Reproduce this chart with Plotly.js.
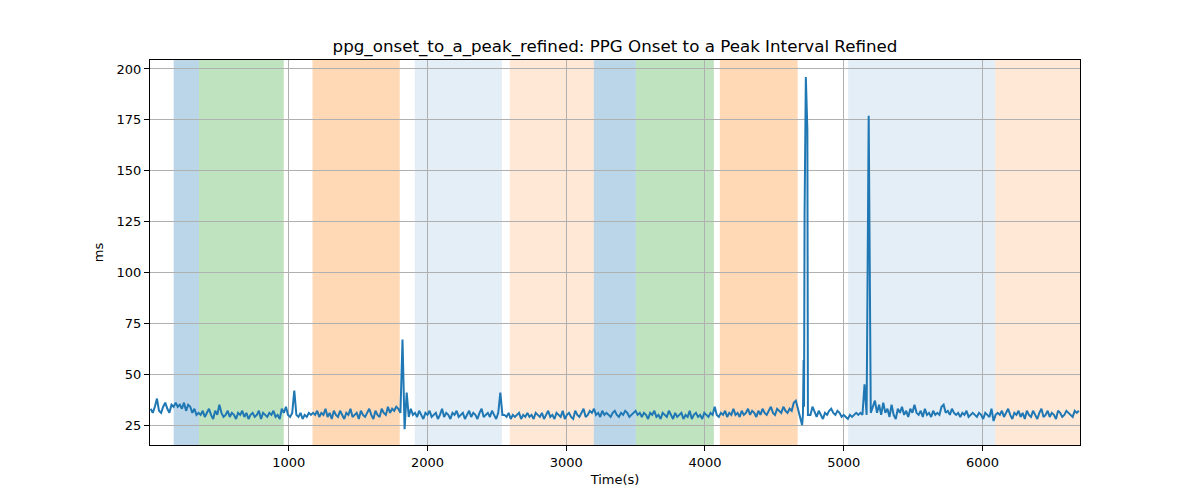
<!DOCTYPE html>
<html>
<head>
<meta charset="utf-8">
<script src="https://cdn.plot.ly/plotly-3.0.1.min.js"></script>
<style>
  body { margin: 0; background: #fff; }
  #chart { width: 1200px; height: 500px; }
</style>
</head>
<body>
<div id="chart"></div>
<script>
// interval values (ms), sampled every 15 s
var stepTime = 15;

// part 1: t = 5 s .. 4700 s
var startA = 5;
var intervalMsA = [
  33,31,34,38,32,31,34,36,33,31,35,34,
  36,34,35,33,36,32,35,34,31,33,30,
  31,30,32,29,31,33,30,28,32,30,35,31,29,30,32,29,31,30,28,31,
  30,32,29,31,28,30,31,29,30,32,28,31,30,29,31,30,32,29,30,28,33,31,
  34,30,29,31,
  42,
  30,29,31,28,30,29,31,30,
  31,30,32,29,31,30,33,29,31,28,32,30,29,32,30,28,31,30,33,29,
  30,31,28,32,30,29,31,33,30,28,32,30,29,33,31,30,34,31,33,32,34,33,
  31,67,23,41,29,
  33,30,31,29,32,30,28,
  31,30,32,29,30,31,28,30,33,29,31,30,28,31,30,32,29,30,31,28,
  30,32,29,31,30,28,31,33,29,30,31,29,32,30,28,31,
  41,30,
  30,29,31,28,30,29,30,31,28,30,29,31,29,30,28,31,30,29,31,28,
  30,32,29,30,28,31,30,29,32,28,30,31,29,28,32,30,29,31,33,29,30,32,31,
  33,30,31,29,32,30,31,30,29,31,32,30,29,31,30,32,31,29,30,31,
  32,30,31,29,31,30,28,31,30,32,29,30,28,31,30,29,32,30,28,31,
  29,30,31,28,30,29,32,28,30,31,29,30,28,31,30,29,31,30,
  34,30,29,
  31,30,32,29,31,30,33,30,31,29,32,30,31,33,30,32,31,29,32,30,
  33,31,30,32,34,31,30,33,32,31,34,32,31,33,32,36,37,
  33,28,25
];

// artefact burst around t = 4710 s (irregular beat times)
var spikeTime = [4706, 4711, 4714, 4718, 4727, 4738, 4742];
var spikeMs   = [30, 57, 34, 130, 196, 170, 30];

// part 2: t = 4760 s .. 6695 s
var startB = 4760;
var intervalMsB = [
  30,34,31,29,32,30,28,31,30,32,33,31,30,32,31,29,30,29,28,30,
  29,30,31,30,31,30,
  45,30,177,
  31,34,37,31,35,30,36,31,33,29,35,30,28,33,31,34,30,32,29,33,31,
  35,31,30,32,29,33,30,31,29,32,30,31,30,
  34,35,31,32,30,33,31,
  30,31,29,31,30,32,29,30,31,30,29,31,30,28,31,30,29,33,
  27,30,31,
  30,32,29,31,33,30,28,31,30,32,29,31,28,32,30,29,32,30,28,31,
  33,29,30,32,29,31,30,28,32,31,29,30,32,31,30,29,32,31,32
];

// shaded phases (time in s)
var bandStart = [171, 353, 1171, 1908, 2593, 3199, 3502, 4107, 5032, 6092];
var bandEnd   = [353, 964, 1800, 2536, 3199, 3502, 4064, 4668, 6092, 6703];
var bandColor = [
  'rgba(31,119,180,0.3)', 'rgba(44,160,44,0.3)', 'rgba(255,127,14,0.3)',
  'rgba(31,119,180,0.12)', 'rgba(255,127,14,0.17)',
  'rgba(31,119,180,0.3)', 'rgba(44,160,44,0.3)', 'rgba(255,127,14,0.3)',
  'rgba(31,119,180,0.12)', 'rgba(255,127,14,0.17)'
];

var xTicks = [1000, 2000, 3000, 4000, 5000, 6000];
var yTicks = [25, 50, 75, 100, 125, 150, 175, 200];

var xs = [], ys = [];
for (var i = 0; i < intervalMsA.length; i++) {
  xs.push(startA + i * stepTime);
  ys.push(intervalMsA[i]);
}
for (var i = 0; i < spikeTime.length; i++) {
  xs.push(spikeTime[i]);
  ys.push(spikeMs[i]);
}
for (var i = 0; i < intervalMsB.length; i++) {
  xs.push(startB + i * stepTime);
  ys.push(intervalMsB[i]);
}

var shapes = [];
for (var i = 0; i < bandStart.length; i++) {
  shapes.push({
    type: 'rect', xref: 'x', yref: 'paper',
    x0: bandStart[i], x1: bandEnd[i], y0: 0, y1: 1,
    fillcolor: bandColor[i], line: {width: 0}, layer: 'below'
  });
}

var data = [{
  x: xs,
  y: ys,
  type: 'scatter',
  mode: 'lines',
  line: {color: '#1f77b4', width: 2},
  hoverinfo: 'x+y'
}];

var axisStyle = {
  showline: true, linecolor: '#000', linewidth: 1, mirror: true,
  ticks: 'outside', ticklen: 5, tickcolor: '#000',
  showgrid: true, gridcolor: '#b0b0b0', gridwidth: 1,
  zeroline: false,
  tickfont: {family: 'DejaVu Sans', size: 13, color: '#000'}
};

var layout = {
  width: 1200, height: 500,
  margin: {l: 150, r: 120, t: 60, b: 55},
  paper_bgcolor: '#fff', plot_bgcolor: 'rgba(0,0,0,0)',
  showlegend: false,
  font: {family: 'DejaVu Sans', color: '#000'},
  title: {
    text: 'ppg_onset_to_a_peak_refined: PPG Onset to a Peak Interval Refined',
    font: {family: 'DejaVu Sans', size: 16.7, color: '#000'},
    x: 0.5125, xanchor: 'center', y: 0.908, yanchor: 'middle'
  },
  xaxis: Object.assign({}, axisStyle, {
    range: [0, 6703], tickvals: xTicks,
    title: {text: 'Time(s)', font: {family: 'DejaVu Sans', size: 13}, standoff: 6}
  }),
  yaxis: Object.assign({}, axisStyle, {
    range: [15.2, 204.4], tickvals: yTicks,
    title: {text: 'ms', font: {family: 'DejaVu Sans', size: 13}, standoff: 10}
  }),
  shapes: shapes
};

Plotly.newPlot('chart', data, layout, {displayModeBar: false, staticPlot: true});
</script>
</body>
</html>
